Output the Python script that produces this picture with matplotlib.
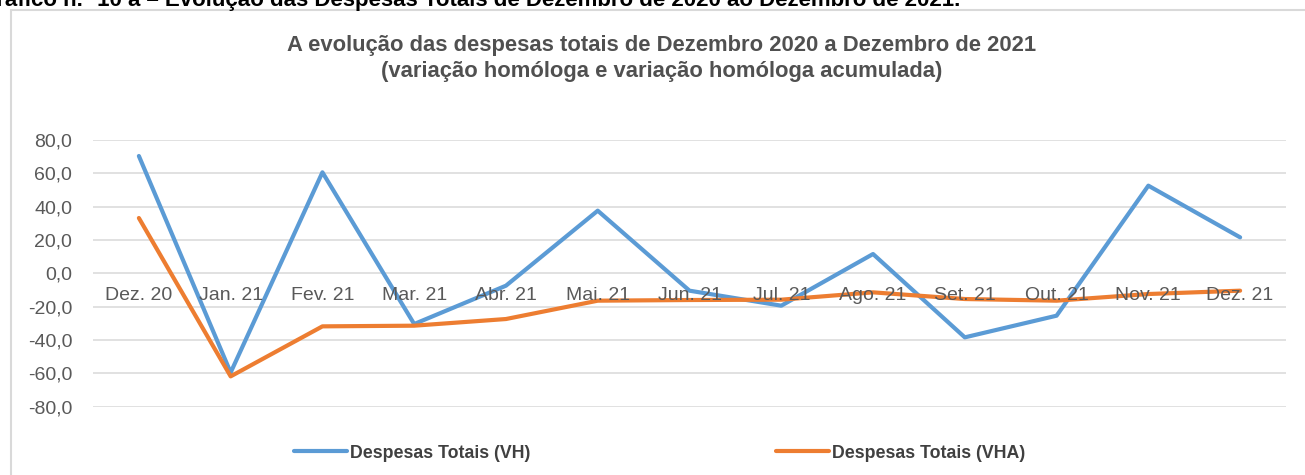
import matplotlib
matplotlib.use("Agg")
import matplotlib.pyplot as plt
from matplotlib.patches import Rectangle

plt.rcParams['font.family'] = ['Liberation Sans', 'DejaVu Sans']

categories = ["Dez. 20", "Jan. 21", "Fev. 21", "Mar. 21", "Abr. 21", "Mai. 21", "Jun. 21",
              "Jul. 21", "Ago. 21", "Set. 21", "Out. 21", "Nov. 21", "Dez. 21"]
vh = [70.4, -59.5, 60.6, -30.4, -7.4, 37.6, -10.4, -19.4, 11.6, -38.4, -25.4, 52.6, 21.6]
vha = [33.2, -61.8, -31.8, -31.4, -27.4, -16.4, -16.0, -15.8, -11.4, -15.4, -16.4, -12.4, -10.4]
yticks = [80, 60, 40, 20, 0, -20, -40, -60, -80]
series_names = ["Despesas Totais (VH)", "Despesas Totais (VHA)"]

W, H = 1305, 475
fig = plt.figure(figsize=(W / 100, H / 100), dpi=100)

# chart frame
fig.add_artist(Rectangle((11 / W, -0.2), 1.2, 1 - 10 / H + 0.2, transform=fig.transFigure,
                         fill=False, edgecolor="#D9D9D9", linewidth=1.5))

# header text (partially cut off at top, as in the source)
fig.text(960 / W, 1 - 6 / H,
         "Gráfico n.º 10 a – Evolução das Despesas Totais de Dezembro de 2020 ao Dezembro de 2021.",
         ha="right", va="baseline", fontsize=16, fontweight="bold", color="black")

ax = fig.add_axes([93 / W, 1 - 406.7 / H, (1286 - 93) / W, (406.7 - 140) / H])
x = list(range(len(categories)))
ax.plot(x, vh, color="#5B9BD5", linewidth=3, solid_capstyle="round", label=series_names[0])
ax.plot(x, vha, color="#ED7D31", linewidth=3, solid_capstyle="round", label=series_names[1])

ax.set_xlim(-0.5, len(categories) - 0.5)
ax.set_ylim(-80, 80)
ax.set_yticks(yticks)
ax.set_yticklabels([f"{v:.1f}".replace(".", ",") for v in yticks])
ax.yaxis.grid(True, color="#D9D9D9", linewidth=1.1)
ax.set_axisbelow(True)
for s in ax.spines.values():
    s.set_visible(False)
ax.tick_params(axis="y", length=0, pad=15, labelsize=14, labelcolor="#595959")
ax.set_xticks([])
for xi, lab in zip(x, categories):
    ax.text(xi, -8.0, lab, ha="center", va="top", fontsize=14, color="#595959")

fig.text(662 / W, 1 - 45 / H,
         "A evolução das despesas totais de Dezembro 2020 a Dezembro de 2021",
         ha="center", va="center", fontsize=15.8, fontweight="bold", color="#505050")
fig.text(662 / W, 1 - 72 / H,
         "(variação homóloga e variação homóloga acumulada)",
         ha="center", va="center", fontsize=15.8, fontweight="bold", color="#505050")

leg = fig.legend(loc="center left", bbox_to_anchor=(278 / W, 1 - 453 / H), ncol=2,
                 frameon=False, handlelength=3.0, handletextpad=0.15, columnspacing=13.8,
                 prop={"size": 12.8, "weight": "bold"})
for t in leg.get_texts():
    t.set_color("#404040")

fig.savefig("out.png", dpi=100)
